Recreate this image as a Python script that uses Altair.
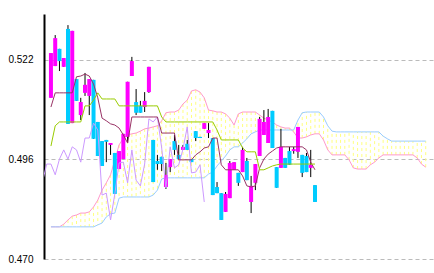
import altair as alt
import pandas as pd

# ---- candle data (63 periods) ----
opens = [0.5121, 0.5204, 0.5249, 0.5202, 0.5301, 0.5055, 0.5170, 0.5076, 0.5134, 0.5126,
         0.5168, 0.5058, 0.5008, 0.5011, 0.4998, 0.4977, 0.4935, 0.4961, 0.5019, 0.5178,
         0.5110, 0.5100, 0.5097, 0.5136, 0.5011, 0.4956, 0.4967, 0.4888, 0.4940, 0.5008,
         0.4972, 0.4985, 0.5001, 0.4961, 0.5034, 0.5019, 0.5040, 0.5029, 0.5016, 0.4888,
         0.4872, 0.4823, 0.4859, 0.4933, 0.4925, 0.4927, 0.4956, 0.4849, 0.4899, 0.4969,
         0.5024, 0.5003, 0.5087, 0.4940, 0.4938, 0.4964, 0.4982, 0.4982, 0.4980, 0.4972,
         0.4969, 0.4938, 0.4893]
highs = [0.5238, 0.5285, 0.5249, 0.5225, 0.5311, 0.5296, 0.5170, 0.5121, 0.5186, 0.5170,
         0.5168, 0.5058, 0.5008, 0.5011, 0.5003, 0.4977, 0.4982, 0.5027, 0.5163, 0.5228,
         0.5144, 0.5113, 0.5136, 0.5202, 0.5011, 0.4972, 0.4967, 0.4951, 0.4961, 0.5024,
         0.4998, 0.4998, 0.5011, 0.4961, 0.5034, 0.5019, 0.5055, 0.5055, 0.5016, 0.4901,
         0.4872, 0.4875, 0.4956, 0.4953, 0.4925, 0.4993, 0.4964, 0.4917, 0.4948, 0.5071,
         0.5089, 0.5092, 0.5087, 0.4940, 0.5040, 0.4964, 0.4993, 0.4993, 0.5045, 0.4972,
         0.4977, 0.4985, 0.4893]
lows = [0.5121, 0.5204, 0.5191, 0.5202, 0.5053, 0.5055, 0.5113, 0.5063, 0.5126, 0.5076,
        0.5014, 0.4969, 0.4943, 0.4953, 0.4972, 0.4870, 0.4935, 0.4961, 0.5003, 0.5178,
        0.5076, 0.5082, 0.5084, 0.5134, 0.4901, 0.4933, 0.4930, 0.4883, 0.4927, 0.4972,
        0.4961, 0.4985, 0.4985, 0.4953, 0.5008, 0.5016, 0.5040, 0.5016, 0.4867, 0.4872,
        0.4802, 0.4823, 0.4859, 0.4933, 0.4891, 0.4927, 0.4906, 0.4820, 0.4880, 0.4969,
        0.5024, 0.5003, 0.4990, 0.4886, 0.4938, 0.4938, 0.4946, 0.4975, 0.4964, 0.4914,
        0.4927, 0.4914, 0.4849]
closes = [0.5238, 0.5277, 0.5217, 0.5225, 0.5053, 0.5296, 0.5113, 0.5110, 0.5155, 0.5170,
          0.5014, 0.4969, 0.4943, 0.5006, 0.5003, 0.4870, 0.4982, 0.5027, 0.5163, 0.5217,
          0.5082, 0.5082, 0.5113, 0.5202, 0.4901, 0.4948, 0.4948, 0.4920, 0.4961, 0.4985,
          0.4961, 0.4993, 0.4985, 0.4953, 0.5016, 0.5016, 0.5055, 0.5037, 0.4867, 0.4872,
          0.4802, 0.4870, 0.4951, 0.4953, 0.4899, 0.4985, 0.4906, 0.4891, 0.4948, 0.5066,
          0.5058, 0.5071, 0.4990, 0.4886, 0.4993, 0.4938, 0.4946, 0.4987, 0.5045, 0.4925,
          0.4927, 0.4946, 0.4849]

# ---- ichimoku lines ----
tenkan = [0.5097, 0.5134, 0.5134, 0.5134, 0.5134, 0.5134, 0.5176, 0.5178, 0.5183, 0.5178,
          0.5157, 0.5121, 0.5068, 0.5061, 0.5053, 0.5050, 0.5042, 0.5024, 0.5003, 0.5071,
          0.5071, 0.5071, 0.5071, 0.5071, 0.5071, 0.5071, 0.5029, 0.5029, 0.5029, 0.5029,
          0.4959, 0.4959, 0.4959, 0.4959, 0.4972, 0.4980, 0.4990, 0.4993, 0.5016, 0.5016,
          0.4946, 0.4933, 0.4933, 0.4933, 0.4933, 0.4917, 0.4891, 0.4888, 0.4891, 0.4938,
          0.4961, 0.4974, 0.4982, 0.4990, 0.4993, 0.4993, 0.4993, 0.4993, 0.4993, 0.4993,
          0.4985, 0.4953, 0.4933]
kijun = [0.4995, 0.5048, 0.5058, 0.5058, 0.5058, 0.5058, 0.5058, 0.5058, 0.5100, 0.5100,
         0.5115, 0.5134, 0.5118, 0.5118, 0.5118, 0.5118, 0.5100, 0.5100, 0.5100, 0.5100,
         0.5100, 0.5100, 0.5100, 0.5100, 0.5100, 0.5100, 0.5071, 0.5058, 0.5058, 0.5058,
         0.5058, 0.5058, 0.5058, 0.5058, 0.5058, 0.5058, 0.5058, 0.5058, 0.5058, 0.5037,
         0.5011, 0.5011, 0.5011, 0.5011, 0.5011, 0.4990, 0.4980, 0.4980, 0.4980, 0.4933,
         0.4933, 0.4938, 0.4943, 0.4946, 0.4948, 0.4948, 0.4948, 0.4948, 0.4948, 0.4948,
         0.4948, 0.4948, 0.4948]
span_a = [0.4784, 0.4784, 0.4784, 0.4791, 0.4802, 0.4812, 0.4815, 0.4820, 0.4820, 0.4823,
          0.4836, 0.4854, 0.4880, 0.4899, 0.4920, 0.4959, 0.4998, 0.5016, 0.5024, 0.5027,
          0.5029, 0.5034, 0.5040, 0.5042, 0.5045, 0.5048, 0.5061, 0.5082, 0.5084, 0.5084,
          0.5089, 0.5105, 0.5115, 0.5139, 0.5142, 0.5136, 0.5121, 0.5089, 0.5087, 0.5084,
          0.5084, 0.5079, 0.5068, 0.5050, 0.5079, 0.5084, 0.5084, 0.5084, 0.5084, 0.5076,
          0.5068, 0.5063, 0.5058, 0.5050, 0.5045, 0.5042, 0.5042, 0.5032, 0.5016, 0.5016,
          0.5019, 0.5024, 0.5027, 0.5027, 0.5011, 0.4985, 0.4972, 0.4972, 0.4972, 0.4972,
          0.4959, 0.4938, 0.4935, 0.4935, 0.4935, 0.4946, 0.4953, 0.4964, 0.4972, 0.4972,
          0.4972, 0.4972, 0.4972, 0.4972, 0.4972, 0.4972, 0.4964, 0.4948, 0.4940]
span_b = [0.4784, 0.4784, 0.4784, 0.4784, 0.4784, 0.4784, 0.4784, 0.4784, 0.4784, 0.4784,
          0.4784, 0.4789, 0.4794, 0.4810, 0.4818, 0.4820, 0.4859, 0.4862, 0.4862, 0.4862,
          0.4862, 0.4862, 0.4862, 0.4862, 0.4867, 0.4880, 0.4909, 0.4912, 0.4912, 0.4912,
          0.4912, 0.4912, 0.4912, 0.4912, 0.4912, 0.4912, 0.4912, 0.4922, 0.4927, 0.4943,
          0.4956, 0.4969, 0.4985, 0.4993, 0.4993, 0.5003, 0.5014, 0.5027, 0.5032, 0.5037,
          0.5037, 0.5037, 0.5037, 0.5037, 0.5037, 0.5037, 0.5037, 0.5037, 0.5063, 0.5082,
          0.5084, 0.5084, 0.5084, 0.5084, 0.5071, 0.5048, 0.5034, 0.5032, 0.5032, 0.5032,
          0.5032, 0.5032, 0.5032, 0.5032, 0.5032, 0.5032, 0.5032, 0.5032, 0.5021, 0.5014,
          0.5008, 0.5008, 0.5008, 0.5008, 0.5008, 0.5008, 0.5008, 0.5008, 0.5008]
lag = 26
y_ticks = [0.470, 0.496, 0.522]

n = len(closes)
candles = pd.DataFrame({"i": list(range(n)), "open": opens, "high": highs,
                        "low": lows, "close": closes})
lines = pd.DataFrame({"i": list(range(n)), "tenkan": tenkan, "kijun": kijun})
chikou = pd.DataFrame({"i": [k - lag for k in range(n)], "chikou": closes})
cloud = pd.DataFrame({"i": list(range(len(span_a))), "a": span_a, "b": span_b})

XS = alt.Scale(domain=[-0.4576, 88.77], nice=False, zero=False)
YS = alt.Scale(domain=[0.470, 0.534], nice=False, zero=False)
yaxis = alt.Axis(values=y_ticks, format=".3f", ticks=False, grid=True,
                 gridDash=[4, 3], gridColor="#bbbbbb", gridWidth=1,
                 domainColor="#000000", domainWidth=2,
                 labelFont="Liberation Sans", labelFontSize=10, labelColor="#000000",
                 labelPadding=11, title=None)

def X():
    return alt.X("i:Q", scale=XS, axis=None)

def Y(field):
    return alt.Y(field, type="quantitative", scale=YS, axis=yaxis)

cloud_fill = alt.Chart(cloud).mark_rule(color="#ffff80", strokeDash=[3, 3], strokeWidth=1).encode(
    x=X(), y=Y("a"), y2="b")
span_a_line = alt.Chart(cloud).mark_line(color="#ff99cc", strokeWidth=1, clip=True).encode(x=X(), y=Y("a"))
span_b_line = alt.Chart(cloud).mark_line(color="#99ccff", strokeWidth=1, clip=True).encode(x=X(), y=Y("b"))

wicks = alt.Chart(candles).mark_rule(color="#000000", strokeWidth=1).encode(
    x=X(), y=Y("low"), y2="high")
bodies = alt.Chart(candles).mark_bar(size=4).encode(
    x=X(), y=Y("open"), y2="close",
    color=alt.condition(alt.datum.close >= alt.datum.open,
                        alt.value("#ff00ff"), alt.value("#00ccff")))

chikou_line = alt.Chart(chikou).mark_line(color="#cc99ff", strokeWidth=1, clip=True).encode(
    x=X(), y=Y("chikou"))
tenkan_line = alt.Chart(lines).mark_line(color="#993366", strokeWidth=1, clip=True).encode(
    x=X(), y=Y("tenkan"))
kijun_line = alt.Chart(lines).mark_line(color="#99cc00", strokeWidth=1, clip=True).encode(
    x=X(), y=Y("kijun"))

chart = alt.layer(cloud_fill, span_a_line, span_b_line, wicks, bodies,
                  chikou_line, tenkan_line, kijun_line).properties(
    width=390, height=245,
    padding={"left": 44, "top": 14, "right": 0, "bottom": 14},
    autosize=alt.AutoSizeParams(type="none"),
    background="#ffffff",
).configure_view(stroke=None)

chart.save("out.html", embed_options={"renderer": "svg", "actions": False})
